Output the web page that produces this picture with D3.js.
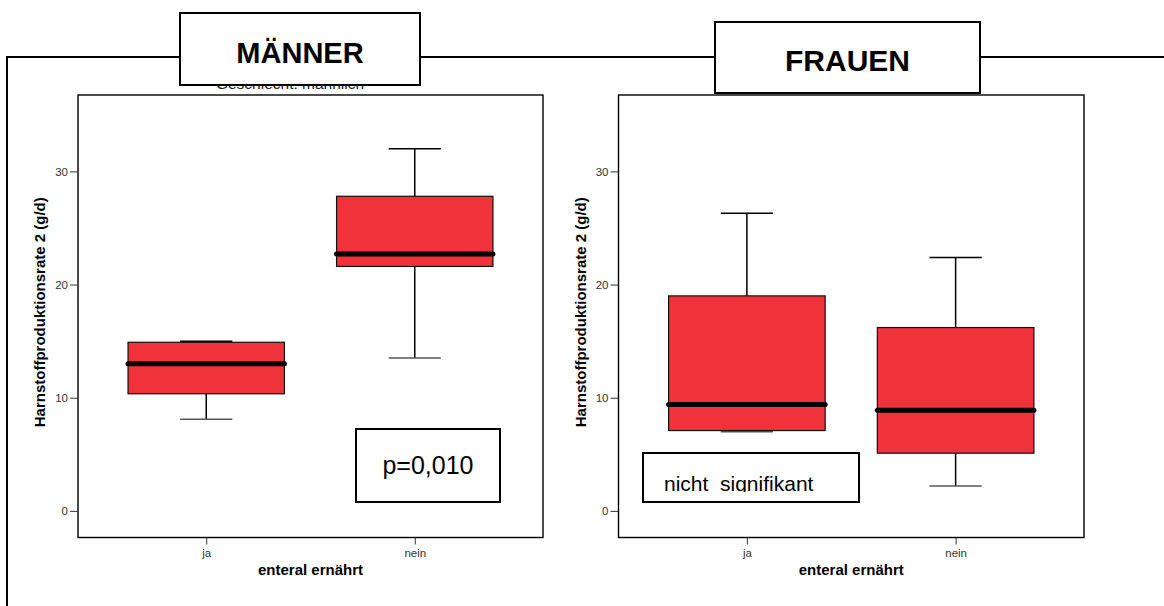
<!DOCTYPE html>
<html>
<head>
<meta charset="utf-8">
<script src="https://cdn.jsdelivr.net/npm/d3@7"></script>
<style>
  html, body { margin: 0; padding: 0; background: #fff; }
  svg { display: block; font-family: "Liberation Sans", Arial, Helvetica, sans-serif; }
  .note { white-space: pre; }
</style>
</head>
<body>
<svg id="chart" width="1164" height="606"></svg>
<script>
// Harnstoffproduktionsrate nach enteraler Ernährung, getrennt nach Geschlecht
const categories = ["ja", "nein"];
const panelTitles = ["MÄNNER", "FRAUEN"];
const yTicks = [0, 10, 20, 30];

// Box-plot statistics per category: [unterer Whisker, Q1, Median, Q3, oberer Whisker]
const maennerJa   = [8.1, 10.35, 13.0, 14.9, 15.0];
const maennerNein = [13.5, 21.6, 22.7, 27.8, 32.0];
const frauenJa    = [7.0, 7.1, 9.4, 19.0, 26.3];
const frauenNein  = [2.2, 5.1, 8.9, 16.2, 22.4];

const annotations = ["p=0,010", "nicht  signifikant"];
const yTitle = "Harnstoffproduktionsrate 2 (g/d)";
const xTitle = "enteral ernährt";

const boxFill = "#f0323a";

const svg = d3.select("#chart");

// outer frame (top and left edges only)
svg.append("path")
  .attr("d", "M7,606 V57 H1164")
  .attr("fill", "none").attr("stroke", "#000").attr("stroke-width", 2);

const panels = [
  { title: panelTitles[0], stats: [maennerJa, maennerNein], left: 78, right: 543,
    titleBox: { x: 180, y: 13, w: 240, h: 72, size: 29, baseline: 63 },
    hidden: "Geschlecht: männlich",
    note: { text: annotations[0], x: 356, y: 429, w: 144, h: 73, size: 25, anchor: "middle", tx: 428, ty: 474 } },
  { title: panelTitles[1], stats: [frauenJa, frauenNein], left: 618.5, right: 1084,
    titleBox: { x: 715, y: 22, w: 265, h: 71, size: 30, baseline: 70.5 },
    hidden: null,
    note: { text: annotations[1], x: 643, y: 453, w: 216, h: 49, size: 21, anchor: "start", tx: 664, ty: 491, clipBottom: 492 } }
];

const plotTop = 95, plotBottom = 537.5;
const y = d3.scaleLinear().domain([-2.35, 36.75]).range([plotBottom, plotTop]);

panels.forEach((p, i) => {
  const g = svg.append("g");
  const x = d3.scalePoint().domain(categories).range([p.left, p.right]).padding(0.615);
  const step = x.step();
  const boxW = step * 0.75;
  const capW = step * 0.25;

  // subtitle, partly covered by the title box
  if (p.hidden) {
    g.append("text")
      .attr("x", p.titleBox.x + p.titleBox.w / 2 - 10).attr("y", 89)
      .attr("text-anchor", "middle").attr("font-size", 15.5).attr("fill", "#222")
      .text(p.hidden);
  }

  // plot frame
  g.append("rect")
    .attr("x", p.left).attr("y", plotTop)
    .attr("width", p.right - p.left).attr("height", plotBottom - plotTop)
    .attr("fill", "none").attr("stroke", "#000").attr("stroke-width", 1.4);

  // y axis
  const yAxis = d3.axisLeft(y).tickValues(yTicks).tickSize(8).tickPadding(2).tickFormat(d3.format("d"));
  const ya = g.append("g").attr("transform", `translate(${p.left},0)`).call(yAxis);
  ya.select(".domain").remove();
  ya.selectAll("line").attr("stroke", "#333").attr("stroke-width", 1);
  ya.selectAll("text").attr("font-size", 11.5).attr("fill", "#333")
    .attr("font-family", "'Liberation Sans', Arial, sans-serif");

  // x axis
  const xAxis = d3.axisBottom(x).tickSize(7).tickPadding(4);
  const xa = g.append("g").attr("transform", `translate(0,${plotBottom})`).call(xAxis);
  xa.select(".domain").remove();
  xa.selectAll("line").attr("stroke", "#333").attr("stroke-width", 1);
  xa.selectAll("text").attr("font-size", 11.5).attr("fill", "#333")
    .attr("font-family", "'Liberation Sans', Arial, sans-serif");

  // axis titles
  g.append("text")
    .attr("transform", `translate(${p.left - 33},${(plotTop + plotBottom) / 2 - 4}) rotate(-90)`)
    .attr("text-anchor", "middle").attr("font-size", 15).attr("font-weight", "bold")
    .text(yTitle);
  g.append("text")
    .attr("x", (p.left + p.right) / 2).attr("y", 575)
    .attr("text-anchor", "middle").attr("font-size", 15).attr("font-weight", "bold")
    .text(xTitle);

  // box plots
  const boxes = g.selectAll("g.box").data(p.stats.map((s, k) => ({ cat: categories[k], s })))
    .join("g").attr("class", "box");

  boxes.each(function(d) {
    const b = d3.select(this);
    const cx = x(d.cat);
    const [lo, q1, med, q3, hi] = d.s;
    // whiskers
    b.append("line").attr("x1", cx).attr("x2", cx).attr("y1", y(hi)).attr("y2", y(q3))
      .attr("stroke", "#000").attr("stroke-width", 1.5);
    b.append("line").attr("x1", cx).attr("x2", cx).attr("y1", y(q1)).attr("y2", y(lo))
      .attr("stroke", "#000").attr("stroke-width", 1.5);
    b.append("line").attr("x1", cx - capW / 2).attr("x2", cx + capW / 2).attr("y1", y(hi)).attr("y2", y(hi))
      .attr("stroke", "#000").attr("stroke-width", 1.5);
    b.append("line").attr("x1", cx - capW / 2).attr("x2", cx + capW / 2).attr("y1", y(lo)).attr("y2", y(lo))
      .attr("stroke", "#555").attr("stroke-width", 1.5);
    // box
    b.append("rect").attr("x", cx - boxW / 2).attr("y", y(q3))
      .attr("width", boxW).attr("height", y(q1) - y(q3))
      .attr("fill", boxFill).attr("stroke", "#111").attr("stroke-width", 1.2);
    // median
    b.append("line").attr("x1", cx - boxW / 2).attr("x2", cx + boxW / 2).attr("y1", y(med)).attr("y2", y(med))
      .attr("stroke", "#000").attr("stroke-width", 5).attr("stroke-linecap", "round");
  });

  // annotation box
  const n = p.note;
  g.append("rect").attr("x", n.x).attr("y", n.y).attr("width", n.w).attr("height", n.h)
    .attr("fill", "#fff").attr("stroke", "#000").attr("stroke-width", 2);
  let noteG = g;
  if (n.clipBottom) {
    const id = "noteclip" + i;
    svg.append("defs").append("clipPath").attr("id", id)
      .append("rect").attr("x", n.x).attr("y", n.y).attr("width", n.w).attr("height", n.clipBottom - n.y);
    noteG = g.append("g").attr("clip-path", `url(#${id})`);
  }
  noteG.append("text").attr("class", "note").attr("x", n.tx).attr("y", n.ty)
    .attr("text-anchor", n.anchor).attr("font-size", n.size).attr("fill", "#000")
    .text(n.text);

  // title box over the outer frame line
  const t = p.titleBox;
  g.append("rect").attr("x", t.x).attr("y", t.y).attr("width", t.w).attr("height", t.h)
    .attr("fill", "#fff").attr("stroke", "#000").attr("stroke-width", 2);
  g.append("text").attr("x", t.x + t.w / 2).attr("y", t.baseline)
    .attr("text-anchor", "middle").attr("font-size", t.size).attr("font-weight", "bold")
    .text(p.title);
});
</script>
</body>
</html>
